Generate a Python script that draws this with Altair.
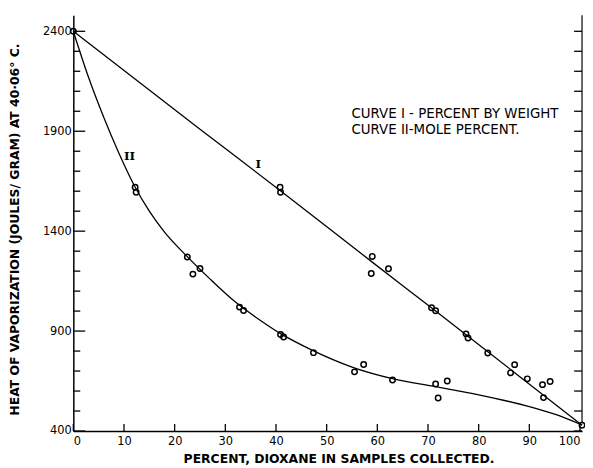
import altair as alt
import pandas as pd

# ---- data ----
# Curve I (percent by weight) smooth line
curve1_x = [0, 25, 41, 59, 71, 82, 93, 100.4]
curve1_y = [2400, 1910, 1600, 1245, 1010, 793, 575, 429]
# Curve II (mole percent) smooth line
curve2_x = [0, 3, 6, 9, 12, 15, 18, 22, 27, 32, 37, 41, 47, 55, 63, 71.5, 77, 83, 90, 95, 100.4]
curve2_y = [2400, 2170, 1970, 1790, 1630, 1500, 1395, 1285, 1160, 1045, 952, 886, 806, 720, 662, 622, 596, 565, 522, 484, 430]
# measured points, curve I
pts1_x = [0, 40.8, 40.9, 59.0, 58.8, 62.2, 70.7, 71.5, 77.5, 77.9, 81.8, 86.3, 87.1, 89.6, 92.6, 92.8, 94.1, 100.4]
pts1_y = [2400, 1620, 1595, 1273, 1188, 1212, 1017, 1002, 886, 865, 790, 691, 732, 661, 632, 567, 648, 429]
# measured points, curve II
pts2_x = [12.2, 12.4, 22.5, 23.6, 25.0, 32.8, 33.6, 40.9, 41.5, 47.4, 55.5, 57.3, 63.0, 71.5, 72.0, 73.8]
pts2_y = [1620, 1595, 1271, 1185, 1213, 1020, 1003, 883, 870, 792, 696, 733, 655, 635, 565, 650]

x_ticks = [0, 10, 20, 30, 40, 50, 60, 70, 80, 90, 100]
y_labels = [400, 900, 1400, 1900, 2400]
y_minor = [500, 600, 700, 800, 1000, 1100, 1200, 1300, 1500, 1600, 1700, 1800,
           2000, 2100, 2200, 2300]
y_all = [400, 500, 600, 700, 800, 900, 1000, 1100, 1200, 1300, 1400, 1500, 1600,
         1700, 1800, 1900, 2000, 2100, 2200, 2300, 2400]

curve_labels = ["I", "II"]
curve_label_x = [36.5, 11.1]
curve_label_y = [1735, 1775]
legend_lines = ["CURVE I - PERCENT BY WEIGHT", "CURVE II-MOLE PERCENT."]

W, H = 514, 420
FONT = "DejaVu Sans"

xs = alt.Scale(domain=[0, 100.4], nice=False, zero=False)
ys = alt.Scale(domain=[400, 2480], nice=False, zero=False)

ax_x = alt.Axis(values=x_ticks, ticks=False, grid=False, domain=True, domainColor="black",
                domainWidth=1.5, labelFont=FONT, labelFontSize=11.5, labelColor="black",
                labelPadding=5, labelFlush=5,
                title="PERCENT,   DIOXANE   IN   SAMPLES   COLLECTED.",
                titleFont=FONT, titleFontSize=12.5, titleFontWeight="bold", titleColor="black",
                titlePadding=5, titleX=268)
ax_y = alt.Axis(values=y_labels, ticks=False, grid=False, domain=True, domainColor="black",
                domainWidth=1.5, labelFont=FONT, labelFontSize=11.5, labelColor="black",
                labelPadding=2, format="d",
                title="HEAT  OF  VAPORIZATION   (JOULES/ GRAM)  AT  40·06° C.",
                titleFont=FONT, titleFontSize=12.5, titleFontWeight="bold", titleColor="black",
                titleAngle=270, titleX=-59, titleY=216, titleAlign="center",
                titleBaseline="middle")

X = lambda f: alt.X(f, scale=xs, axis=ax_x)
Y = lambda f: alt.Y(f, scale=ys, axis=ax_y)

df_c1 = pd.DataFrame({"x": curve1_x, "y": curve1_y})
df_c2 = pd.DataFrame({"x": curve2_x, "y": curve2_y})
df_pts = pd.DataFrame({"x": pts1_x + pts2_x, "y": pts1_y + pts2_y})

line1 = alt.Chart(df_c1).mark_line(color="black", strokeWidth=1.3, interpolate="monotone").encode(
    x=X("x:Q"), y=Y("y:Q"))
line2 = alt.Chart(df_c2).mark_line(color="black", strokeWidth=1.3, interpolate="monotone").encode(
    x=X("x:Q"), y=Y("y:Q"))
points = alt.Chart(df_pts).mark_point(shape="circle", filled=False, size=30, color="black",
                                      strokeWidth=1.5, opacity=1).encode(
    x=X("x:Q"), y=Y("y:Q"))

# tick marks (inward)
left_major = alt.Chart(pd.DataFrame({"y": y_labels})).mark_rule(color="black", strokeWidth=1.3).encode(
    y=Y("y:Q"), x=alt.value(0), x2=alt.value(12))
left_minor = alt.Chart(pd.DataFrame({"y": y_minor})).mark_rule(color="black", strokeWidth=1.3).encode(
    y=Y("y:Q"), x=alt.value(0), x2=alt.value(7))
right_ticks = alt.Chart(pd.DataFrame({"y": y_all})).mark_rule(color="black", strokeWidth=1.3).encode(
    y=Y("y:Q"), x=alt.value(W - 8), x2=alt.value(W))
right_line = alt.Chart(pd.DataFrame({"v": [0]})).mark_rule(color="black", strokeWidth=1.2).encode(
    x=alt.value(W), y=alt.value(0), y2=alt.value(H - 8))
bottom_ticks = alt.Chart(pd.DataFrame({"x": x_ticks})).mark_rule(color="black", strokeWidth=1.3).encode(
    x=X("x:Q"), y=alt.value(H), y2=alt.value(H - 7))

labels = alt.Chart(pd.DataFrame({"x": curve_label_x, "y": curve_label_y, "t": curve_labels})).mark_text(
    font="DejaVu Serif", fontSize=12, fontWeight="bold", color="black").encode(
    x=X("x:Q"), y=Y("y:Q"), text="t:N")

leg1 = alt.Chart(pd.DataFrame({"t": [legend_lines[0]]})).mark_text(
    font=FONT, fontSize=13.5, align="left", baseline="middle", color="black").encode(
    x=alt.value(281), y=alt.value(100), text="t:N")
leg2 = alt.Chart(pd.DataFrame({"t": [legend_lines[1]]})).mark_text(
    font=FONT, fontSize=13.5, align="left", baseline="middle", color="black").encode(
    x=alt.value(281), y=alt.value(116), text="t:N")

chart = alt.layer(line1, line2, points, left_major, left_minor, right_ticks, right_line,
                  bottom_ticks, labels, leg1, leg2).properties(
    width=W, height=H,
    autosize=alt.AutoSizeParams(type="none"),
    padding={"left": 66, "top": 5, "right": 3, "bottom": 36},
).configure_view(stroke=None)

chart.save("out.html", embed_options={"renderer": "svg", "actions": False})
